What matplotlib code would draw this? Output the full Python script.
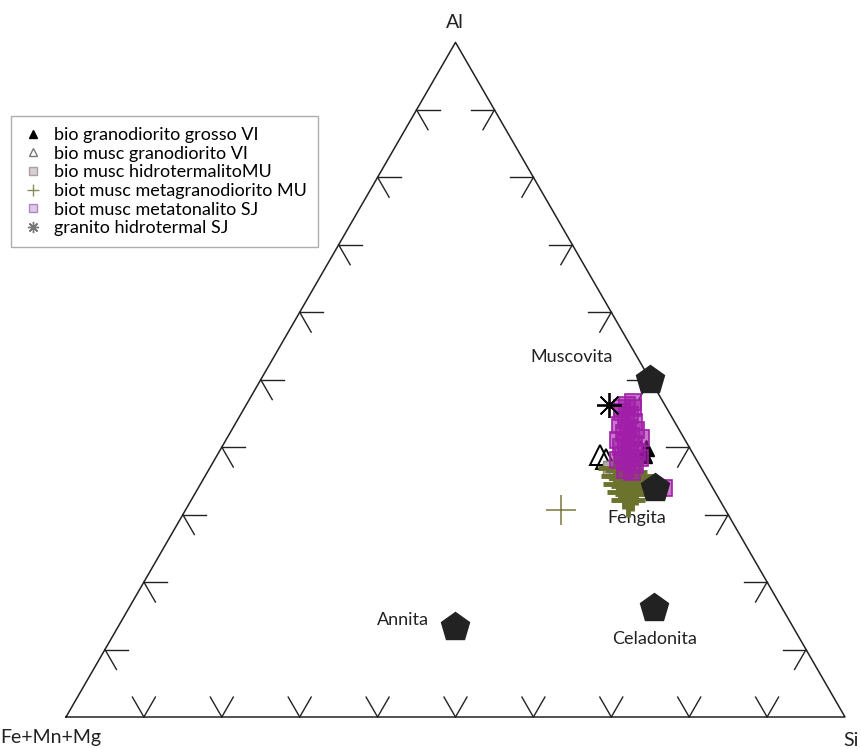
import numpy as np
import matplotlib.pyplot as plt
from matplotlib.lines import Line2D

plt.rcParams['font.family'] = ['Lato', 'DejaVu Sans']

# ternary data, fractions of Al, Si, Fe+Mn+Mg
# end members
end_names = ['Muscovita', 'Fengita', 'Celadonita', 'Annita']
end_al = [0.500, 0.339, 0.162, 0.133]
end_si = [0.500, 0.586, 0.674, 0.433]
end_fe = [0.000, 0.075, 0.164, 0.434]

# bio granodiorito grosso VI
bgg_al = [0.399, 0.388]
bgg_si = [0.545, 0.548]
bgg_fe = [0.056, 0.064]

# bio musc granodiorito VI
bmg_al = [0.388, 0.382, 0.394]
bmg_si = [0.492, 0.502, 0.541]
bmg_fe = [0.120, 0.116, 0.065]

# bio musc hidrotermalitoMU
bmh_al = [0.369, 0.362]
bmh_si = [0.514, 0.525]
bmh_fe = [0.117, 0.113]

# biot musc metagranodiorito MU
bmm_al = [0.369, 0.366, 0.363, 0.357, 0.354, 0.351, 0.345, 0.342, 0.339,
          0.334, 0.331, 0.322, 0.357, 0.307]
bmm_si = [0.520, 0.531, 0.543, 0.530, 0.542, 0.554, 0.539, 0.550, 0.562,
          0.549, 0.561, 0.560, 0.558, 0.482]
bmm_fe = [0.111, 0.103, 0.094, 0.113, 0.104, 0.095, 0.116, 0.108, 0.099,
          0.117, 0.108, 0.118, 0.085, 0.211]

# biot musc metatonalito SJ
bmt_al = [0.462, 0.458, 0.452, 0.448, 0.440, 0.437, 0.433, 0.428, 0.425,
          0.421, 0.417, 0.411, 0.408, 0.405, 0.400, 0.396, 0.393, 0.388,
          0.384, 0.381, 0.378, 0.374, 0.366, 0.363, 0.339, 0.458, 0.467,
          0.414, 0.384]
bmt_si = [0.489, 0.499, 0.488, 0.500, 0.499, 0.511, 0.495, 0.507, 0.519,
          0.506, 0.517, 0.503, 0.515, 0.527, 0.513, 0.525, 0.537, 0.521,
          0.533, 0.518, 0.531, 0.543, 0.535, 0.545, 0.598, 0.485, 0.494,
          0.531, 0.545]
bmt_fe = [0.049, 0.043, 0.060, 0.052, 0.061, 0.052, 0.072, 0.065, 0.056,
          0.073, 0.066, 0.086, 0.077, 0.068, 0.087, 0.079, 0.070, 0.091,
          0.083, 0.101, 0.091, 0.083, 0.099, 0.092, 0.063, 0.057, 0.039,
          0.055, 0.071]

# granito hidrotermal SJ
gh_al = [0.4625]
gh_si = [0.466]
gh_fe = [0.0715]

legend_labels = ['bio granodiorito grosso VI', 'bio musc granodiorito VI',
                 'bio musc hidrotermalitoMU', 'biot musc metagranodiorito MU',
                 'biot musc metatonalito SJ', 'granito hidrotermal SJ']

PURPLE = '#a11fa8'
OLIVE = '#6b732d'
INK = '#222222'


def tern(al, si, fe):
    al = np.asarray(al, float)
    si = np.asarray(si, float)
    fe = np.asarray(fe, float)
    s = al + si + fe
    return (si + al / 2) / s, al * np.sqrt(3) / 2 / s


def px(x, y):
    # pixel position of the reference -> data units
    return (x - 66) / 779, (717 - y) / 779


fig = plt.figure(figsize=(8.62, 7.49), dpi=100)
ax = fig.add_axes([0, 0, 1, 1])
ax.set_xlim(-66 / 779, (862 - 66) / 779)
ax.set_ylim(-32 / 779, 717 / 779)
ax.axis('off')

h = np.sqrt(3) / 2
ax.plot([0, 1, 0.5, 0], [0, 0, h, 0], color=INK, lw=1.1, zorder=2)

# arrow-like ticks on the three edges
L = 23 / 779
for t in np.arange(1, 10) / 10:
    edges = [((t, 0), (60, 120)),
             ((t * 0.5, t * h), (0, -60)),
             ((1 - t * 0.5, t * h), (180, 240))]
    for (x0, y0), angs in edges:
        for a in angs:
            r = np.radians(a)
            ax.plot([x0, x0 + L * np.cos(r)], [y0, y0 + L * np.sin(r)],
                    color=INK, lw=1.0, zorder=2)

# samples
x, y = tern(bmg_al, bmg_si, bmg_fe)
ax.plot(x, y, '^', ms=15, mfc='none', mec='black', mew=1.4, ls='none', zorder=3)
x, y = tern(bgg_al, bgg_si, bgg_fe)
ax.plot(x, y, '^', ms=11, color='black', ls='none', zorder=3)
x, y = tern(bmh_al, bmh_si, bmh_fe)
ax.plot(x, y, 's', ms=10, mfc='#b8aeae', mec='#8e8484', ls='none', zorder=3)
x, y = tern(bmm_al, bmm_si, bmm_fe)
ax.plot(x[:-1], y[:-1], '+', ms=24, color=OLIVE, mew=3.5, ls='none', zorder=4)
ax.plot(x[-1:], y[-1:], '+', ms=22, color='#77773c', mew=1.1, ls='none', zorder=4)
x, y = tern(bmt_al, bmt_si, bmt_fe)
ax.plot(x, y, 's', ms=12, mfc=(0.63, 0.12, 0.66, 0.6), mec=PURPLE, mew=1.2,
        ls='none', zorder=5)
x, y = tern(gh_al, gh_si, gh_fe)
ax.plot(x, y, marker=(8, 2, 0), ms=18, color='black', mew=1.3, ls='none', zorder=6)

# end members
x, y = tern(end_al, end_si, end_fe)
ax.plot(x, y, 'p', ms=21, color=INK, ls='none', zorder=7)

lab = dict(fontsize=13, color=INK)
ax.text(*px(613, 357), 'Muscovita', ha='right', va='center', **lab)
ax.text(*px(607, 518), 'Fengita', ha='left', va='center', **lab)
ax.text(*px(612, 639), 'Celadonita', ha='left', va='center', **lab)
ax.text(*px(429, 620), 'Annita', ha='right', va='center', **lab)

ax.text(*px(455, 22), 'Al', ha='center', va='center', fontsize=14, color=INK)
ax.text(*px(0, 738), 'Fe+Mn+Mg', ha='left', va='center', fontsize=14, color=INK)
ax.text(*px(843, 740), 'Si', ha='left', va='center', fontsize=14, color=INK)

handles = [
    Line2D([], [], marker='^', ls='none', ms=6, color='black'),
    Line2D([], [], marker='^', ls='none', ms=6, mfc='none', mec='#777777'),
    Line2D([], [], marker='s', ls='none', ms=6, mfc='#d8d0d0', mec='#aaa0a0'),
    Line2D([], [], marker='+', ls='none', ms=9, color='#8a8a60', mew=1.0),
    Line2D([], [], marker='s', ls='none', ms=6, mfc='#e0c8e8', mec='#b088c0'),
    Line2D([], [], marker=(8, 2, 0), ls='none', ms=8, color='#777777', mew=1.0),
]
leg = fig.legend(handles, legend_labels, loc='upper left',
                 bbox_to_anchor=(11 / 862, 1 - 116 / 749), fontsize=13,
                 frameon=True, fancybox=False, handlelength=1.2,
                 handletextpad=0.6, labelspacing=0.15, borderpad=0.6,
                 borderaxespad=0)
leg.get_frame().set_edgecolor('#999999')
leg.get_frame().set_linewidth(1.0)

fig.savefig('out.png', dpi=100)
